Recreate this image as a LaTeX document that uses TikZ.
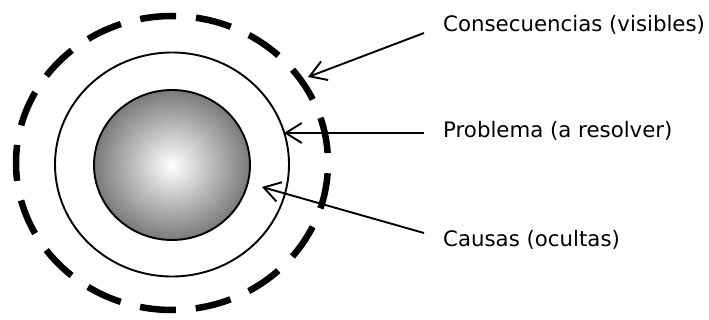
\documentclass[tikz,border=0pt]{standalone}
\usepackage{fontspec}
\setmainfont{DejaVu Sans}
\usetikzlibrary{arrows.meta,shapes.geometric}
\begin{document}
\begin{tikzpicture}[x=1pt,y=-1pt,
  lbl/.style={anchor=base west,inner sep=0pt,font=\fontsize{21.3pt}{25pt}\selectfont},
  arr/.style={line width=1.9pt,-{Straight Barb[length=16pt,width=20pt,line width=1.9pt]}},
  ring/.style={ellipse,draw,line width=1.9pt,inner sep=0pt},
  dashring/.style={ellipse,draw,line width=6.5pt,inner sep=0pt,dash pattern=on 36pt off 20pt,dash phase=46pt}]
\useasboundingbox (0,0) rectangle (709,320);
\node[dashring,minimum width=312pt,minimum height=294pt] (outer) at (172,163) {};
\node[ring,minimum width=234pt,minimum height=224pt] (middle) at (172,164.5) {};
\node[ring,minimum width=156pt,minimum height=150pt,inner color=white,outer color=black!52] (core) at (172,165) {};
\node[lbl] (t1) at (443,32) {Consecuencias (visibles)};
\node[lbl] (t2) at (443,138) {Problema (a resolver)};
\node[lbl] (t3) at (443,247) {Causas (ocultas)};
\coordinate (p1) at (308,77);
\coordinate (p2) at (284,133);
\coordinate (p3) at (262,187);
\coordinate (s1) at (424,33);
\coordinate (s2) at (424,133);
\coordinate (s3) at (424,233);
\draw[arr] (s1) -- (p1);
\draw[arr] (s2) -- (p2);
\draw[arr] (s3) -- (p3);
\end{tikzpicture}
\end{document}
